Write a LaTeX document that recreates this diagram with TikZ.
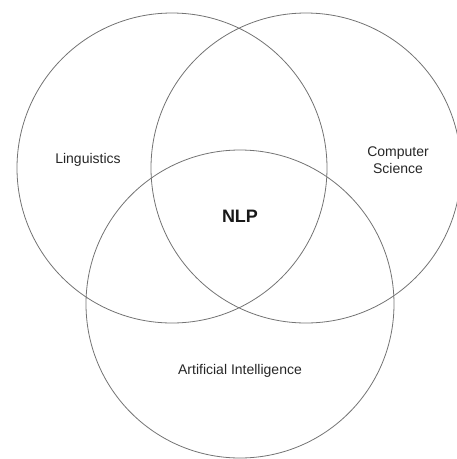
\documentclass[tikz,border=0pt]{standalone}
\usepackage{fontspec}
\setmainfont{Liberation Sans}
\begin{document}
\begin{tikzpicture}[x=1pt,y=-1pt,
  setcircle/.style={circle, draw=black!55, line width=0.8pt, inner sep=0pt, minimum size=#1},
  lbl/.style={font=\fontsize{14}{17}\selectfont, align=center, text=black!85},
  core/.style={font=\fontsize{18}{20}\selectfont\bfseries, text=black!90}]
\useasboundingbox (0,0) rectangle (457,459);
\node[setcircle=310pt] (ling) at (172,168) {};
\node[setcircle=310pt] (cs) at (306,168) {};
\node[setcircle=308pt] (ai) at (240,304) {};
\node[lbl] (lingtext) at (88,160) {Linguistics};
\node[lbl] (cstext) at (398,160) {Computer\\Science};
\node[core] (nlp) at (240,216) {NLP};
\node[lbl] (aitext) at (240,371) {Artificial Intelligence};
\end{tikzpicture}
\end{document}
